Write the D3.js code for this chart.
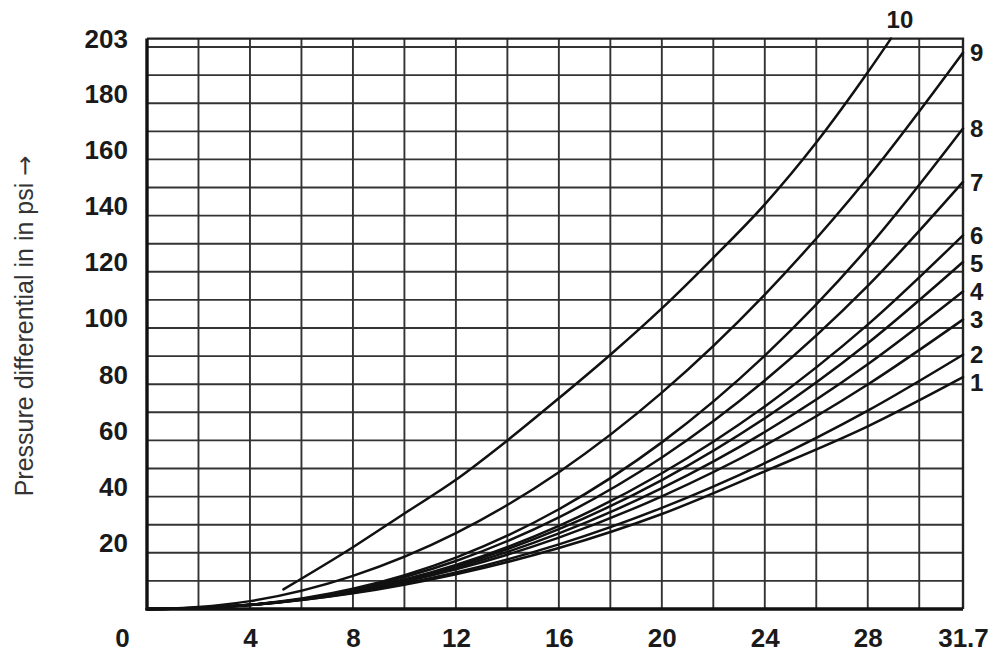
<!DOCTYPE html>
<html>
<head>
<meta charset="utf-8">
<script src="https://d3js.org/d3.v7.min.js"></script>
<style>
  body { margin: 0; background: #fff; }
  svg { display: block; font-family: "Liberation Sans", Arial, sans-serif; }
</style>
</head>
<body>
<svg id="chart" width="1000" height="652"></svg>
<script>
var flowPoints = [0, 2, 4, 8, 12, 16, 20, 24, 28, 31.7];

// Pressure differential (psi) for each curve at flowPoints
var curve1 = [0, 0.4, 1.5, 5.6, 12.4, 21.7, 33.8, 49.0, 65.0, 82.5];
var curve2 = [0, 0.4, 1.4, 5.8, 13.0, 23.0, 36.0, 51.9, 70.6, 90.5];
var curve3 = [0, 0.4, 1.5, 6.1, 14.1, 25.4, 40.1, 58.2, 79.9, 103];
var curve4 = [0, 0.4, 1.5, 6.3, 14.7, 26.9, 43.0, 63.0, 87.1, 113];
var curve5 = [0, 0.4, 1.4, 6.4, 15.3, 28.4, 45.9, 67.9, 94.6, 123.5];
var curve6 = [0, 0.4, 1.4, 6.4, 15.7, 29.6, 48.3, 72.1, 101.2, 133];
var curve7 = [0, 0.4, 1.4, 6.9, 17.1, 32.6, 53.9, 81.3, 115, 152];
var curve8 = [0, 0.4, 1.5, 7.2, 18.3, 35.5, 59.3, 90.2, 128.5, 171];
var curve9 = [0, 0.7, 2.8, 11.8, 27.0, 48.7, 77.0, 111.9, 153.5, 198];

// Curve 10 starts later and runs off the top
var curve10Flow = [5.3, 8, 10, 12, 14, 16, 18, 20, 22, 24, 26, 28, 28.9];
var curve10 = [7, 22, 34, 46, 60, 75, 90.5, 107, 125, 144, 166, 191, 203];

var curveNames = ["1", "2", "3", "4", "5", "6", "7", "8", "9"];

var X_MAX = 31.7;
var Y_MAX = 203;

var xTickLabels = [0, 4, 8, 12, 16, 20, 24, 28, 31.7];
var yTickLabels = [20, 40, 60, 80, 100, 120, 140, 160, 180, 203];

var yTitle = "Pressure differential in in psi ";

var LEFT = 147, RIGHT = 963, TOP = 38.6, BOTTOM = 609;
var LABEL_FONT = 26;
var CURVE_LABEL_FONT = 24;
var LABEL_GAP = 28;

var svg = d3.select("#chart");

var xScale = d3.scaleLinear()
    .domain([0, X_MAX])
    .range([LEFT, RIGHT]);

var yScale = d3.scaleLinear()
    .domain([0, Y_MAX])
    .range([BOTTOM, TOP]);

// ##### Grid #####
var grid = svg.append("g").attr("class", "grid");

grid.selectAll("line.v")
  .data(d3.range(2, X_MAX, 2))
  .enter()
  .append("line")
  .attr("class", "v")
  .attr("x1", function (d) { return xScale(d); })
  .attr("x2", function (d) { return xScale(d); })
  .attr("y1", yScale(Y_MAX))
  .attr("y2", yScale(0))
  .attr("stroke", "#333")
  .attr("stroke-width", 1.9);

grid.selectAll("line.h")
  .data(d3.range(10, Y_MAX, 10))
  .enter()
  .append("line")
  .attr("class", "h")
  .attr("x1", xScale(0))
  .attr("x2", xScale(X_MAX))
  .attr("y1", function (d) { return yScale(d); })
  .attr("y2", function (d) { return yScale(d); })
  .attr("stroke", "#333")
  .attr("stroke-width", 1.9);

// top and right border
svg.append("path")
  .attr("d", "M" + xScale(0) + "," + yScale(Y_MAX) + "H" + xScale(X_MAX) + "V" + yScale(0))
  .attr("fill", "none")
  .attr("stroke", "#222")
  .attr("stroke-width", 2.4);

// ##### Curves #####
var line = d3.line()
    .x(function (d) { return xScale(d[0]); })
    .y(function (d) { return yScale(d[1]); })
    .curve(d3.curveMonotoneX);

var series = [curve1, curve2, curve3, curve4, curve5, curve6, curve7, curve8, curve9].map(function (vals) {
  return vals.map(function (v, i) { return [flowPoints[i], v]; });
});
var series10 = curve10.map(function (v, i) { return [curve10Flow[i], v]; });

svg.append("g").selectAll("path")
  .data(series.concat([series10]))
  .enter()
  .append("path")
  .attr("d", line)
  .attr("fill", "none")
  .attr("stroke", "#111")
  .attr("stroke-width", 2.5)
  .attr("stroke-linecap", "round");

// left and bottom axis lines (heavier)
svg.append("path")
  .attr("d", "M" + xScale(0) + "," + yScale(Y_MAX) + "V" + yScale(0) + "H" + xScale(X_MAX))
  .attr("fill", "none")
  .attr("stroke", "#111")
  .attr("stroke-width", 3.4);

// ##### Axes labels #####
var yAxis = d3.axisLeft(yScale)
    .tickValues(yTickLabels)
    .tickSize(0)
    .tickPadding(LEFT - 128)
    .tickFormat(function (d) { return d; });

var yAxisG = svg.append("g")
  .attr("transform", "translate(" + LEFT + ",0)")
  .call(yAxis);
yAxisG.select(".domain").remove();
yAxisG.selectAll("text")
  .attr("dy", function (d) { return d === Y_MAX ? "0.35em" : "-0.04em"; })
  .style("font-size", LABEL_FONT + "px")
  .style("font-weight", "bold")
  .style("font-family", "'Liberation Sans', Arial, sans-serif")
  .attr("fill", "#1a1a1a");

var xAxis = d3.axisBottom(xScale)
    .tickValues(xTickLabels)
    .tickSize(0)
    .tickPadding(38)
    .tickFormat(function (d) { return d; });

var xAxisG = svg.append("g")
  .attr("transform", "translate(0," + BOTTOM + ")")
  .call(xAxis);
xAxisG.select(".domain").remove();
xAxisG.selectAll("text")
  .attr("dy", 0)
  .attr("x", function (d) { return d === 0 ? -25 : 0; })
  .style("font-size", LABEL_FONT + "px")
  .style("font-weight", "bold")
  .style("font-family", "'Liberation Sans', Arial, sans-serif")
  .attr("fill", "#1a1a1a");

// ##### Curve labels #####
// centre each label on its curve end, pushing down so they do not collide
var labelY = [];
for (var i = series.length - 1; i >= 0; i--) {
  var y = yScale(series[i][series[i].length - 1][1]);
  if (i < series.length - 1) {
    y = Math.max(y, labelY[i + 1] + LABEL_GAP);
  }
  labelY[i] = y;
}

svg.append("g").selectAll("text")
  .data(series)
  .enter()
  .append("text")
  .attr("x", RIGHT + 7)
  .attr("y", function (d, i) { return labelY[i]; })
  .attr("dy", "0.36em")
  .style("font-size", CURVE_LABEL_FONT + "px")
  .style("font-weight", "bold")
  .attr("fill", "#1a1a1a")
  .text(function (d, i) { return curveNames[i]; });

var end10 = series10[series10.length - 1];
svg.append("text")
  .attr("x", xScale(end10[0]) + 9)
  .attr("y", yScale(end10[1]) - 11)
  .attr("text-anchor", "middle")
  .style("font-size", CURVE_LABEL_FONT + "px")
  .style("font-weight", "bold")
  .attr("fill", "#1a1a1a")
  .text("10");

// ##### Y title #####
var title = svg.append("text")
  .attr("transform", "translate(33,326) rotate(-90)")
  .attr("text-anchor", "middle")
  .style("font-size", "25px")
  .attr("fill", "#333")
  .text(yTitle);
title.append("tspan")
  .style("font-family", "'DejaVu Sans', sans-serif")
  .style("font-size", "24px")
  .text("\u2192");
</script>
</body>
</html>
